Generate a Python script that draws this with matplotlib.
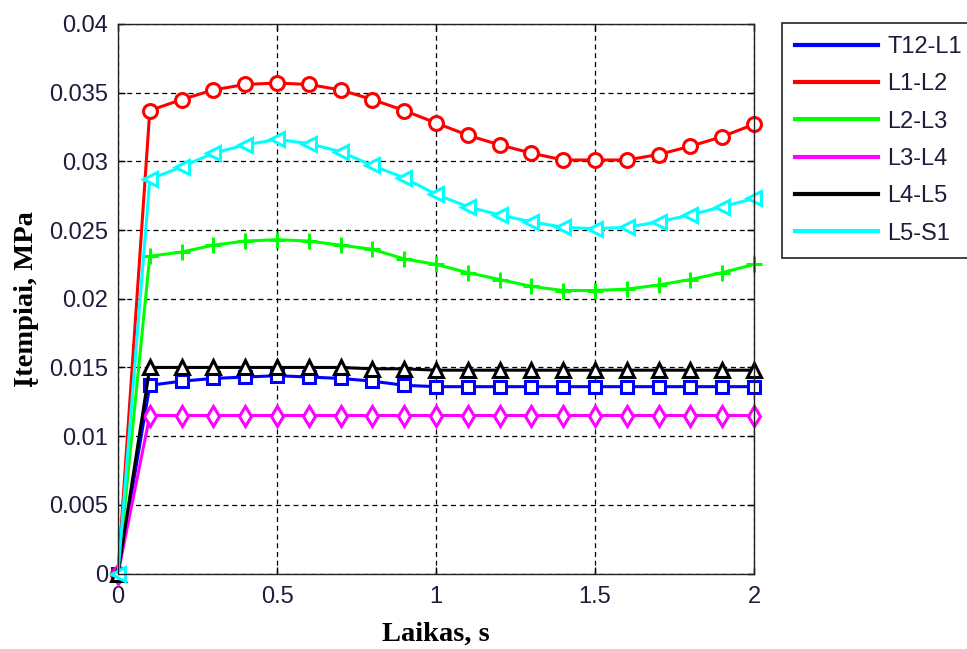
import matplotlib
matplotlib.use('Agg')
import matplotlib.pyplot as plt
from matplotlib.lines import Line2D

# ---- data ----
time_s = [0.0, 0.1, 0.2, 0.3, 0.4, 0.5, 0.6, 0.7, 0.8, 0.9, 1.0,
          1.1, 1.2, 1.3, 1.4, 1.5, 1.6, 1.7, 1.8, 1.9, 2.0]

t12_l1 = [0, 0.0137, 0.0140, 0.0142, 0.0143, 0.0144, 0.0143, 0.0142, 0.0140, 0.0137, 0.0136,
          0.0136, 0.0136, 0.0136, 0.0136, 0.0136, 0.0136, 0.0136, 0.0136, 0.0136, 0.0136]
l1_l2 = [0, 0.0337, 0.0345, 0.0352, 0.0356, 0.0357, 0.0356, 0.0352, 0.0345, 0.0337, 0.0328,
         0.0319, 0.0312, 0.0306, 0.0301, 0.0301, 0.0301, 0.0305, 0.0311, 0.0318, 0.0327]
l2_l3 = [0, 0.0231, 0.0234, 0.0239, 0.0242, 0.0243, 0.0242, 0.0239, 0.0236, 0.0229, 0.0225,
         0.0219, 0.0214, 0.0209, 0.0206, 0.0206, 0.0207, 0.0210, 0.0214, 0.0219, 0.0225]
l3_l4 = [0, 0.0115, 0.0115, 0.0115, 0.0115, 0.0115, 0.0115, 0.0115, 0.0115, 0.0115, 0.0115,
         0.0115, 0.0115, 0.0115, 0.0115, 0.0115, 0.0115, 0.0115, 0.0115, 0.0115, 0.0115]
l4_l5 = [0, 0.0150, 0.0150, 0.0150, 0.0150, 0.0150, 0.0150, 0.0150, 0.0149, 0.0149, 0.0148,
         0.0148, 0.0148, 0.0148, 0.0148, 0.0148, 0.0148, 0.0148, 0.0148, 0.0148, 0.0148]
l5_s1 = [0, 0.0287, 0.0296, 0.0306, 0.0312, 0.0316, 0.0313, 0.0307, 0.0297, 0.0288, 0.0276,
         0.0267, 0.0261, 0.0256, 0.0252, 0.0251, 0.0252, 0.0256, 0.0261, 0.0267, 0.0273]

series_names = ['T12-L1', 'L1-L2', 'L2-L3', 'L3-L4', 'L4-L5', 'L5-S1']
series_values = [t12_l1, l1_l2, l2_l3, l3_l4, l4_l5, l5_s1]

x_ticks = [0, 0.5, 1, 1.5, 2]
x_tick_labels = ['0', '0.5', '1', '1.5', '2']
y_ticks = [0, 0.005, 0.01, 0.015, 0.02, 0.025, 0.03, 0.035, 0.04]
y_tick_labels = ['0', '0.005', '0.01', '0.015', '0.02', '0.025', '0.03', '0.035', '0.04']

x_label = 'Laikas, s'
y_label = 'Įtempiai, MPa'

# ---- styles ----
colors = ['#0000ff', '#ff0000', '#00ff00', '#ff00ff', '#000000', '#00ffff']
markers = ['s', 'o', '+', 'd', '^', '<']
msizes = [9, 10, 11, 10, 10, 10]

W, H = 967, 649
fig = plt.figure(figsize=(W / 100, H / 100), dpi=100)
ax = fig.add_axes([118 / W, 1 - 573.5 / H, 636 / W, 549.5 / H])

tick_font = 'Liberation Sans'
label_font = 'Liberation Serif'
tick_color = '#1c1c3c'

for vals, c, m, ms in zip(series_values, colors, markers, msizes):
    ax.plot(time_s, vals, color=c, lw=2.2, marker=m, ms=ms,
            mfc='white', mec=c, mew=2.2, clip_on=False, zorder=3)

ax.set_xlim(0, 2)
ax.set_ylim(0, 0.04)
ax.set_xticks(x_ticks)
ax.set_xticklabels(x_tick_labels)
ax.set_yticks(y_ticks)
ax.set_yticklabels(y_tick_labels)

ax.grid(True, color='black', linestyle=(0, (4, 3)), linewidth=0.9)
ax.set_axisbelow(True)

ax.tick_params(direction='in', length=5, width=1, top=True, right=True,
               labelsize=17, labelcolor=tick_color)
ax.tick_params(axis='y', pad=7)
ax.tick_params(axis='x', pad=9)
for lab in ax.get_xticklabels() + ax.get_yticklabels():
    lab.set_fontfamily(tick_font)

for sp in ax.spines.values():
    sp.set_color('#222222')
    sp.set_linewidth(1.0)
    sp.set_zorder(4)

ax.set_xlabel(x_label, fontfamily=label_font, fontweight='bold', fontsize=20.5, color='black')
ax.set_ylabel(y_label, fontfamily=label_font, fontweight='bold', fontsize=20.5, color='black')
ax.xaxis.set_label_coords(0.5, -0.088)
ax.yaxis.set_label_coords(-0.124, 0.5)

handles = [Line2D([0], [0], color=c, lw=3) for c in colors]
leg = fig.legend(handles, series_names, loc='upper left',
                 bbox_to_anchor=(782 / W, 1 - 23 / H), bbox_transform=fig.transFigure,
                 borderaxespad=0, frameon=True, fancybox=False,
                 prop={'family': tick_font, 'size': 17},
                 handlelength=3.5, handletextpad=0.4, labelspacing=0.65,
                 borderpad=0.55, framealpha=1)
leg.get_frame().set_edgecolor('#222222')
leg.get_frame().set_linewidth(1.2)
for t in leg.get_texts():
    t.set_color(tick_color)

fig.savefig('out.png', dpi=100)
